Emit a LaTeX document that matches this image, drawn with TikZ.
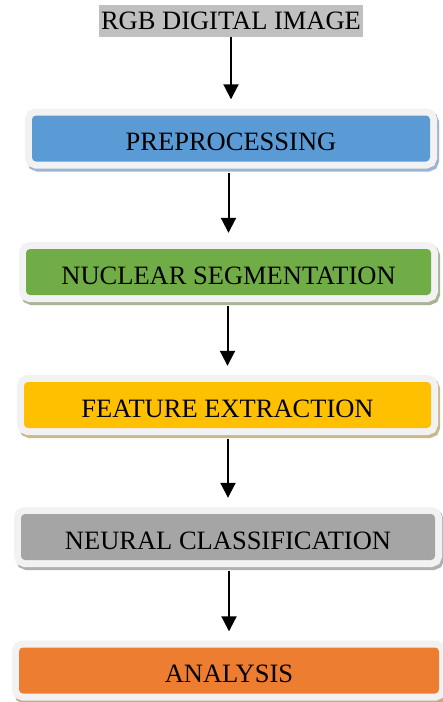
\documentclass[tikz,border=0pt]{standalone}
\usepackage{fontspec}
\setmainfont{Liberation Serif}
\usetikzlibrary{arrows.meta, positioning}
\definecolor{inputgray}{RGB}{192, 192, 192}
\definecolor{shellgray}{RGB}{242, 242, 242}
\definecolor{preblue}{RGB}{91, 155, 213}
\definecolor{segreen}{RGB}{112, 173, 71}
\definecolor{featyellow}{RGB}{255, 192, 0}
\definecolor{neurgray}{RGB}{165, 165, 165}
\definecolor{anaorange}{RGB}{237, 125, 49}
\definecolor{preshadow}{RGB}{158, 180, 208}
\definecolor{segshadow}{RGB}{166, 181, 150}
\definecolor{featshadow}{RGB}{200, 184, 138}
\definecolor{neurshadow}{RGB}{176, 176, 176}
\definecolor{anashadow}{RGB}{200, 168, 143}

\tikzset{
  stage/.style 2 args={fill=#1, rounded corners=4pt, minimum height=46pt, inner sep=0pt,
    text height=24.5pt, text depth=0pt, font=\fontsize{26.5}{30}\selectfont,
    preaction={draw=#2, line width=14pt, transform canvas={shift={(2pt,-3pt)}}},
    preaction={draw=shellgray, line width=14pt}},
  flow/.style={-{Triangle[width=15pt,length=15pt]}, line width=2pt, shorten <=11pt, shorten >=16pt}
}

\begin{document}
\begin{tikzpicture}[x=1pt, y=1pt]
  \useasboundingbox (0,0) rectangle (443,-702);

  \node[fill=inputgray, minimum width=264pt, minimum height=32pt, inner sep=0pt,
        font=\fontsize{26.5}{30}\selectfont] (rgb) at (231,-21) {RGB DIGITAL IMAGE};

  \node[stage={preblue}{preshadow}, minimum width=398pt] (prep) at (231,-138.5) {PREPROCESSING};
  \node[stage={segreen}{segshadow}, minimum width=405pt] (seg) at (228.5,-272) {NUCLEAR SEGMENTATION};
  \node[stage={featyellow}{featshadow}, minimum width=407pt] (feat) at (227.5,-405) {FEATURE EXTRACTION};
  \node[stage={neurgray}{neurshadow}, minimum width=414pt] (neur) at (228,-537) {NEURAL CLASSIFICATION};
  \node[stage={anaorange}{anashadow}, minimum width=420pt] (ana) at (229,-670.5) {ANALYSIS};

  % arrows between the stages
  \draw[flow, shorten <=0pt] (rgb.south -| prep.north) -- (prep.north);
  \draw[flow] (prep.south -| seg.north) -- (seg.north);
  \draw[flow] (seg.south -| feat.north) -- (feat.north);
  \draw[flow] (feat.south -| neur.north) -- (neur.north);
  \draw[flow] (neur.south -| ana.north) -- (ana.north);
\end{tikzpicture}
\end{document}
